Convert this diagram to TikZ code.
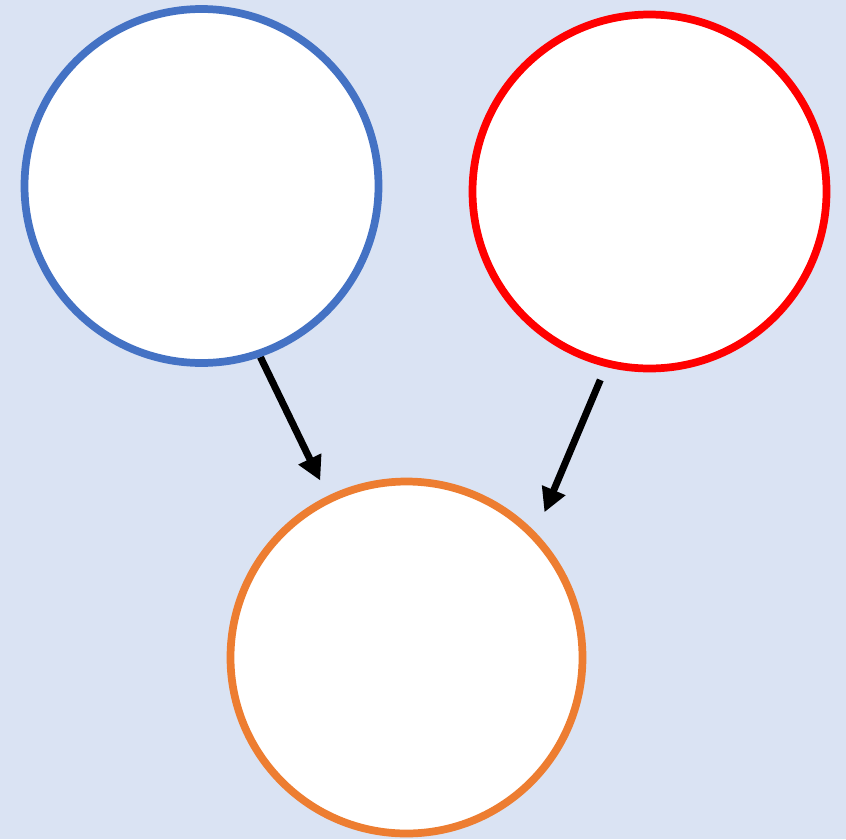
\documentclass[tikz,border=0pt]{standalone}
\usepackage{xcolor}
\usepackage{tikz}
\usetikzlibrary{arrows.meta, positioning, backgrounds}

\definecolor{bgblue}{HTML}{DAE3F3}
\definecolor{ringblue}{HTML}{4472C4}
\definecolor{ringred}{HTML}{FF0000}
\definecolor{ringorange}{HTML}{ED7D31}

\begin{document}
\begin{tikzpicture}[
        ring/.style={
            circle,
            fill=white,
            line width=2.2pt,
            inner sep=0pt,
            minimum size=3.54cm
        },
        arrow/.style={
            line width=2pt,
            -{Triangle[length=0.24cm, width=0.24cm]},
            color=black
        }
    ]

    % Circles
    \node (left) [ring, draw=ringblue] at (2.015,6.53) {};
    \node (right) [ring, draw=ringred] at (6.495,6.475) {};
    \node (bottom) [ring, draw=ringorange, minimum size=3.52cm] at (4.065,1.815) {};

    % Background and the arrow that runs under the blue ring
    \begin{scope}[on background layer]
        \fill [bgblue] (0,0) rectangle (8.46,8.39);
        \draw [arrow, shorten >=0.17cm] (left.-71) -- (bottom.116);
    \end{scope}
    \useasboundingbox (0,0) rectangle (8.46,8.39);

    % Arrows
    \draw [arrow, shorten <=0.14cm, shorten >=0.22cm] (right.-104) -- (bottom.44);

\end{tikzpicture}
\end{document}
